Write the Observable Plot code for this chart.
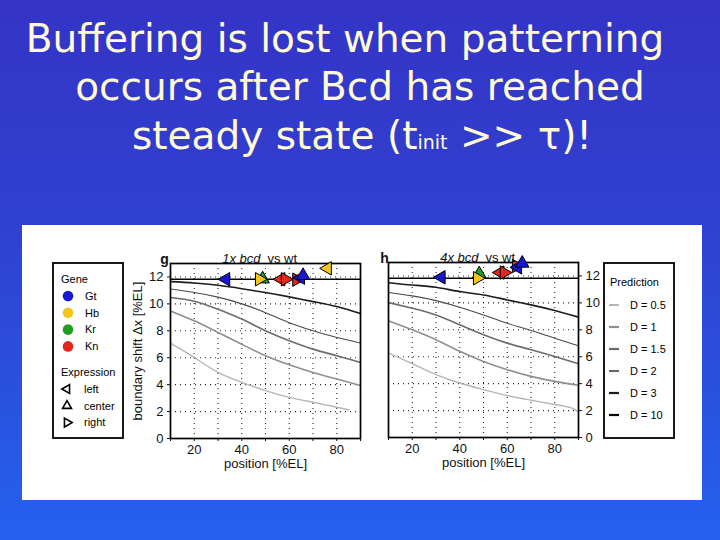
<!DOCTYPE html>
<html><head><meta charset="utf-8">
<script src="https://cdn.jsdelivr.net/npm/d3@7"></script>
<script src="https://cdn.jsdelivr.net/npm/@observablehq/plot@0.6"></script>
<style>
html,body{margin:0;padding:0;}
body{width:720px;height:540px;overflow:hidden;position:relative;background:linear-gradient(180deg,#3434c6 0%,#3040d0 40%,#2a50dc 70%,#2462ee 100%);font-family:"Liberation Sans",Arial,sans-serif;}
.t{position:absolute;width:720px;text-align:center;color:#fffbd6;font-family:"Comic Sans MS","DejaVu Sans",sans-serif;font-size:39px;line-height:1;white-space:nowrap;}
.t .sub{font-size:19px;}
#panel{position:absolute;left:22px;top:225px;width:680px;height:275px;background:#fff;}
.abs{position:absolute;}
.abs svg{overflow:visible;}
</style></head><body>
<div class="t" id="t1" style="top:19px;left:-15px;">Buffering is lost when patterning</div>
<div class="t" id="t2" style="top:67px;left:0px;">occurs after Bcd has reached</div>
<div class="t" id="t3" style="top:116px;left:2px;">steady state (t<span class="sub">init</span> &gt;&gt; τ)!</div>
<div id="panel"></div>
<div class="abs" id="leftPlot" style="left:120px;top:240px;"></div>
<div class="abs" id="rightPlot" style="left:370px;top:240px;"></div>
<div class="abs" id="geneLegend" style="left:52px;top:262px;"></div>
<div class="abs" id="predLegend" style="left:603px;top:262px;"></div>
<script>
// ---------- data ----------
const positions = [10, 20, 30, 40, 50, 60, 70, 80, 90];
const dValues = ["0.5", "1", "1.5", "2", "3", "10"];
const dColors = ["#b5b5b5", "#8f8f8f", "#6c6c6c", "#4a4a4a", "#1c1c1c", "#000000"];
const dWidths = [1.4, 1.6, 1.6, 1.1, 1.6, 1.6];

// 1x bcd vs wt (panel g)
const g_D10 = [11.83, 11.83, 11.83, 11.83, 11.83, 11.83, 11.83, 11.83, 11.83];
const g_D3 = [11.65, 11.55, 11.38, 11.13, 10.84, 10.52, 10.17, 9.8, 9.28];
const g_D2 = [11.1, 10.85, 10.5, 10.0, 9.35, 8.6, 8.0, 7.5, 7.1];
const g_D15 = [10.48, 10.2, 9.6, 8.87, 8.0, 7.26, 6.64, 6.15, 5.65];
const g_D1 = [9.48, 8.74, 7.88, 7.0, 6.15, 5.48, 4.91, 4.42, 3.93];
const g_D05_pos = [10, 20, 30, 40, 50, 60, 70, 80, 85];
const g_D05 = [7.09, 6.02, 4.91, 4.17, 3.56, 3.06, 2.69, 2.32, 2.12];

// 4x bcd vs wt (panel h)
const h_D10 = [11.83, 11.83, 11.83, 11.83, 11.83, 11.83, 11.83, 11.83, 11.83];
const h_D3 = [11.5, 11.33, 11.16, 10.84, 10.59, 10.22, 9.85, 9.43, 8.94];
const h_D2 = [10.77, 10.52, 10.17, 9.68, 9.1, 8.49, 7.95, 7.38, 6.81];
const h_D15 = [10.02, 9.6, 9.1, 8.37, 7.63, 7.01, 6.52, 6.02, 5.48];
const h_D1 = [8.67, 8.0, 7.26, 6.4, 5.65, 5.04, 4.54, 4.17, 3.88];
const h_D05_pos = [10, 20, 30, 40, 50, 60, 70, 80, 87, 90];
const h_D05 = [6.27, 5.48, 4.67, 4.05, 3.56, 3.11, 2.77, 2.45, 2.2, 1.88];

// measured boundary shifts (markers)
const genes = ["Gt", "Hb", "Kr", "Kn"];
const geneColors = ["#1818d2", "#f4c61c", "#1f9e1f", "#e2281c"];
const expressions = ["left", "center", "right"];
const g_gene = ["Gt", "Kr", "Hb", "Kn", "Kn", "Kn", "Gt", "Gt", "Hb"];
const g_expr = ["left", "center", "right", "left", "right", "right", "left", "center", "left"];
const g_x = [33.3, 48.8, 47.4, 56.5, 58.3, 63.1, 64.8, 65.8, 76.1];
const g_y = [11.83, 11.85, 11.83, 11.83, 11.83, 11.8, 11.95, 12.1, 12.64];
const h_gene = ["Gt", "Kr", "Hb", "Kn", "Kn", "Kn", "Gt", "Gt"];
const h_expr = ["left", "center", "right", "left", "right", "right", "left", "center"];
const h_x = [32.2, 48.2, 47.4, 57.0, 58.7, 63.8, 64.4, 66.3];
const h_y = [11.9, 12.15, 11.83, 12.25, 12.25, 12.74, 12.64, 12.94];

const xTicks = [10, 20, 30, 40, 50, 60, 70, 80, 90];
const xGrid = [20, 30, 40, 50, 60, 70, 80];
const yTicks = [0, 2, 4, 6, 8, 10, 12];
const yGrid = [2, 4, 6, 8, 10, 12];

// ---------- build ----------
const rotation = {left: -90, center: 0, right: 90};
function curveMarks(curves) {
  return curves.map((c, i) => {
    const rows = c.xs.map((x, j) => ({x, y: c.ys[j]}));
    return Plot.line(rows, {x: "x", y: "y", stroke: dColors[i], strokeWidth: dWidths[i], curve: "natural"});
  });
}
function markerMarks(gs, es, xs, ys) {
  const rows = gs.map((g, i) => ({gene: g, expr: es[i], x: xs[i], y: ys[i]}));
  return [Plot.dot(rows, {
    x: "x", y: "y", symbol: "triangle", r: 5,
    fill: d => geneColors[genes.indexOf(d.gene)], stroke: "#000", strokeWidth: 1,
    rotate: d => rotation[d.expr], clip: false
  })];
}
const gridStyle = {stroke: "#000", strokeOpacity: 0.85, strokeWidth: 1.1, strokeDasharray: "1,4"};
const baseStyle = {fontSize: "13px", fontFamily: "Liberation Sans, Arial, sans-serif", background: "transparent", overflow: "visible", color: "#111"};

function panel(opts) {
  return Plot.plot({
    width: opts.width, height: 250,
    marginLeft: opts.ml, marginRight: opts.mr, marginTop: opts.mt, marginBottom: 250 - opts.mt - 175,
    x: {domain: [10, 90], label: null},
    y: {domain: [0, 13], label: null},
    style: baseStyle,
    marks: [
      Plot.gridX(xGrid, gridStyle),
      Plot.gridY(yGrid, gridStyle),
      ...curveMarks(opts.curves),
      Plot.frame({stroke: "#000", strokeWidth: 1.7}),
      Plot.axisX(xTicks, {tickSize: 3, tickPadding: 3, tickFormat: d => d % 20 === 0 ? d : "", label: null}),
      Plot.axisY(yTicks, {anchor: opts.yAnchor, tickSize: 3, tickPadding: 4, label: null}),
      ...opts.markers,
      Plot.text([opts.titleA], {frameAnchor: "top", dy: -10, dx: opts.tdx - 2, textAnchor: "end", fontStyle: "italic", fontSize: 13}),
      Plot.text([opts.titleB], {frameAnchor: "top", dy: -10, dx: opts.tdx + 5, textAnchor: "start", fontSize: 13}),
      Plot.text([opts.letter], {frameAnchor: "top-left", dx: opts.ldx, dy: -9, textAnchor: "middle", fontWeight: "bold", fontSize: 14}),
      Plot.text(["position [%EL]"], {frameAnchor: "bottom", dy: 29, textAnchor: "middle", fontSize: 13}),
      ...(opts.ylabel ? [Plot.text([opts.ylabel], {frameAnchor: "left", dx: -33, rotate: -90, textAnchor: "middle", fontSize: 13})] : [])
    ]
  });
}

const gCurves = [
  {xs: g_D05_pos, ys: g_D05}, {xs: positions, ys: g_D1}, {xs: positions, ys: g_D15},
  {xs: positions, ys: g_D2}, {xs: positions, ys: g_D3}, {xs: positions, ys: g_D10}
];
const hCurves = [
  {xs: h_D05_pos, ys: h_D05}, {xs: positions, ys: h_D1}, {xs: positions, ys: h_D15},
  {xs: positions, ys: h_D2}, {xs: positions, ys: h_D3}, {xs: positions, ys: h_D10}
];

document.getElementById("leftPlot").appendChild(panel({
  width: 260, ml: 50, mr: 20, mt: 23, yAnchor: "left", curves: gCurves,
  markers: markerMarks(g_gene, g_expr, g_x, g_y),
  titleA: "1x bcd", titleB: "vs wt", tdx: -3, letter: "g", ldx: -6,
  ylabel: "boundary shift Δx [%EL]"
}));
document.getElementById("rightPlot").appendChild(panel({
  width: 250, ml: 18, mr: 42, mt: 22, yAnchor: "right", curves: hCurves,
  markers: markerMarks(h_gene, h_expr, h_x, h_y),
  titleA: "4x bcd", titleB: "vs wt", tdx: -3, letter: "h", ldx: -4,
  ylabel: null
}));

// ---------- legends ----------
function legendBox(id, w, h) {
  const svg = d3.select("#" + id).append("svg").attr("width", w).attr("height", h)
    .style("font-family", "Liberation Sans, Arial, sans-serif").style("font-size", "11px");
  svg.append("rect").attr("x", 1).attr("y", 1).attr("width", w - 2).attr("height", h - 2)
    .attr("fill", "#fff").attr("stroke", "#000").attr("stroke-width", 1.8);
  return svg;
}
const gl = legendBox("geneLegend", 72, 177);
gl.append("text").attr("x", 9).attr("y", 17).attr("dy", "0.35em").text("Gene");
genes.forEach((g, i) => {
  const y = 34 + i * 16.8;
  gl.append("circle").attr("cx", 16).attr("cy", y).attr("r", 5.3).attr("fill", geneColors[i]);
  gl.append("text").attr("x", 33).attr("y", y).attr("dy", "0.35em").text(g);
});
gl.append("text").attr("x", 9).attr("y", 110).attr("dy", "0.35em").text("Expression");
expressions.forEach((e, i) => {
  const y = 127 + i * 16.8;
  gl.append("path").attr("d", d3.symbol(d3.symbolTriangle, 34)())
    .attr("transform", `translate(15,${y}) rotate(${rotation[e]})`)
    .attr("fill", "none").attr("stroke", "#000").attr("stroke-width", 1.6);
  gl.append("text").attr("x", 32).attr("y", y).attr("dy", "0.35em").text(e);
});

const pl = legendBox("predLegend", 72, 177);
pl.append("text").attr("x", 7).attr("y", 20).attr("dy", "0.35em").text("Prediction");
dValues.forEach((d, i) => {
  const y = 43 + i * 22;
  pl.append("line").attr("x1", 6).attr("x2", 16).attr("y1", y).attr("y2", y)
    .attr("stroke", dColors[i]).attr("stroke-width", dWidths[i] + 0.6);
  pl.append("text").attr("x", 27).attr("y", y).attr("dy", "0.35em").text("D = " + d);
});
</script>
</body></html>
